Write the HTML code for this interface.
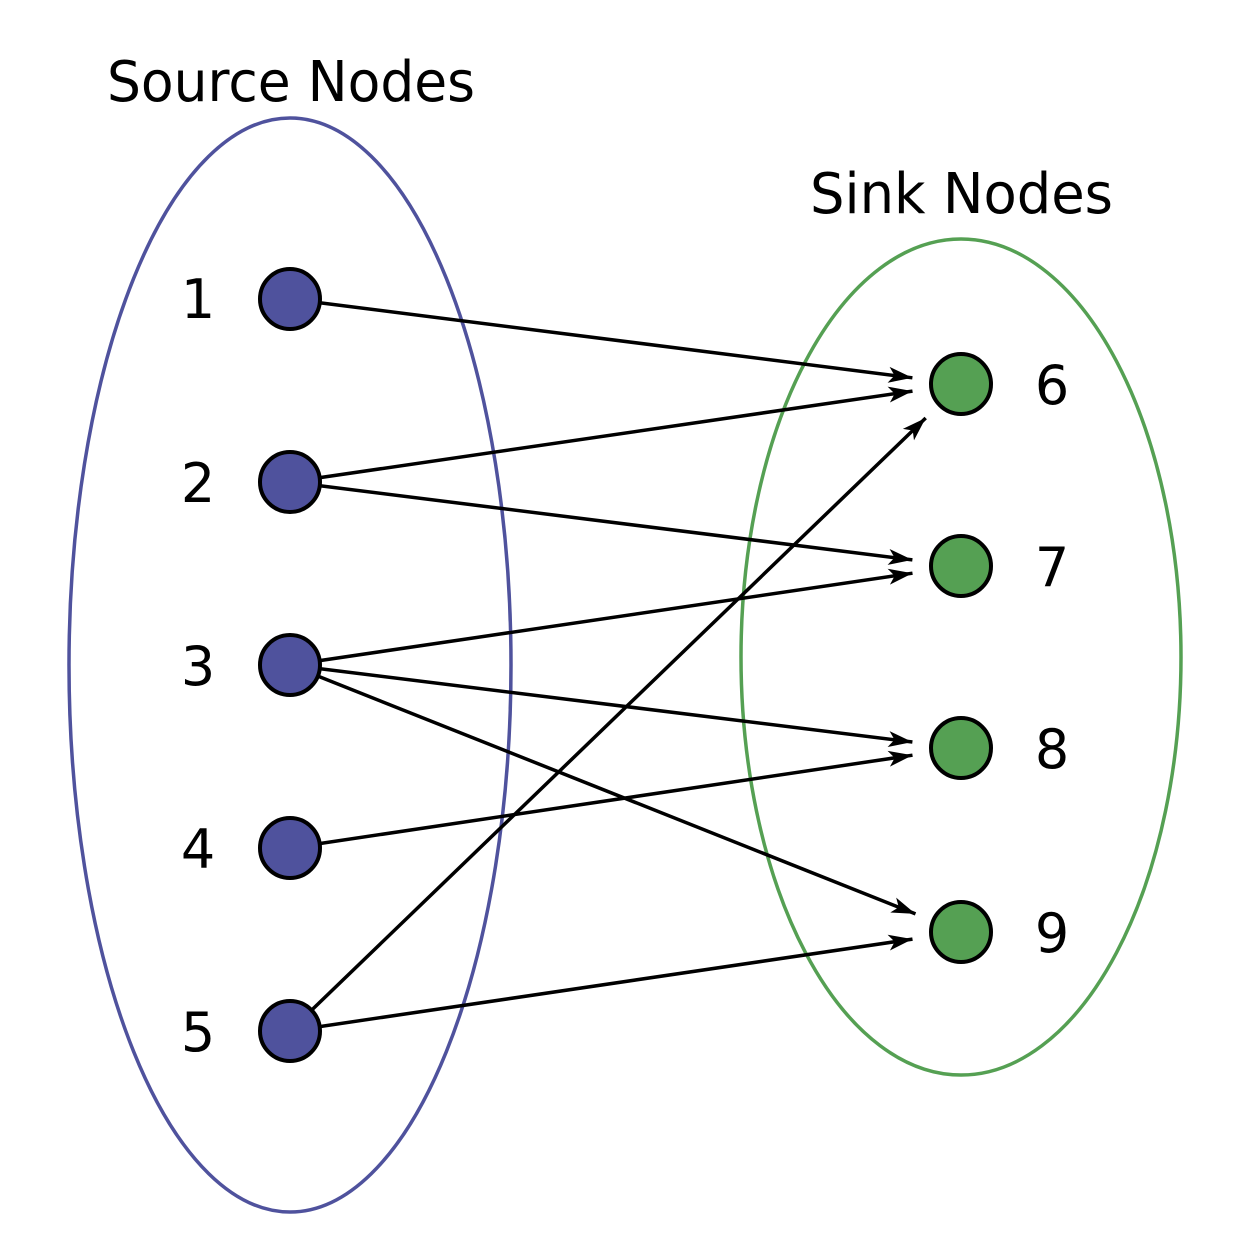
<!DOCTYPE html>
<html><head><meta charset="utf-8"><style>
html,body{margin:0;padding:0;background:#fff;}
svg{display:block;}
text{font-family:"DejaVu Sans","Liberation Sans",sans-serif;fill:#000;}
</style></head><body>
<svg width="1248" height="1250" viewBox="0 0 1248 1250" xmlns="http://www.w3.org/2000/svg">
<defs>
<marker id="a" markerUnits="userSpaceOnUse" markerWidth="30" markerHeight="20" refX="24" refY="9" orient="auto">
<path d="M0,1 L24,9 L0,17 L6,9 Z" fill="#000"/>
</marker>
</defs>
<ellipse cx="290" cy="665" rx="221" ry="547" fill="none" stroke="#4f529d" stroke-width="3.5"/>
<ellipse cx="961" cy="657" rx="220" ry="418" fill="none" stroke="#55a053" stroke-width="3.5"/>
<text x="107" y="101" font-size="56" textLength="368" lengthAdjust="spacingAndGlyphs">Source Nodes</text>
<text x="810" y="213" font-size="56" textLength="303" lengthAdjust="spacingAndGlyphs">Sink Nodes</text>
<g stroke="#000" stroke-width="3.5" marker-end="url(#a)">
<line x1="290" y1="299" x2="912.4" y2="377.8"/>
<line x1="290" y1="482" x2="912.5" y2="391.1"/>
<line x1="290" y1="482" x2="912.4" y2="559.9"/>
<line x1="290" y1="665" x2="912.5" y2="573.2"/>
<line x1="290" y1="665" x2="912.4" y2="742"/>
<line x1="290" y1="665" x2="915.5" y2="913.9"/>
<line x1="290" y1="848" x2="912.5" y2="755.2"/>
<line x1="290" y1="1031" x2="925.7" y2="418"/>
<line x1="290" y1="1031" x2="912.5" y2="939.1"/>
</g>
<g fill="#4f529d" stroke="#000" stroke-width="4">
<circle cx="290" cy="299" r="30"/>
<circle cx="290" cy="482" r="30"/>
<circle cx="290" cy="665" r="30"/>
<circle cx="290" cy="848" r="30"/>
<circle cx="290" cy="1031" r="30"/>
</g>
<g fill="#55a053" stroke="#000" stroke-width="4">
<circle cx="961" cy="384" r="30"/>
<circle cx="961" cy="566" r="30"/>
<circle cx="961" cy="748" r="30"/>
<circle cx="961" cy="932" r="30"/>
</g>
<g font-size="54" text-anchor="middle">
<text x="198" y="318">1</text>
<text x="198" y="502">2</text>
<text x="198" y="685">3</text>
<text x="198" y="868">4</text>
<text x="198" y="1051">5</text>
<text x="1052" y="404">6</text>
<text x="1052" y="586">7</text>
<text x="1052" y="768">8</text>
<text x="1052" y="952">9</text>
</g>
</svg>
</body></html>
